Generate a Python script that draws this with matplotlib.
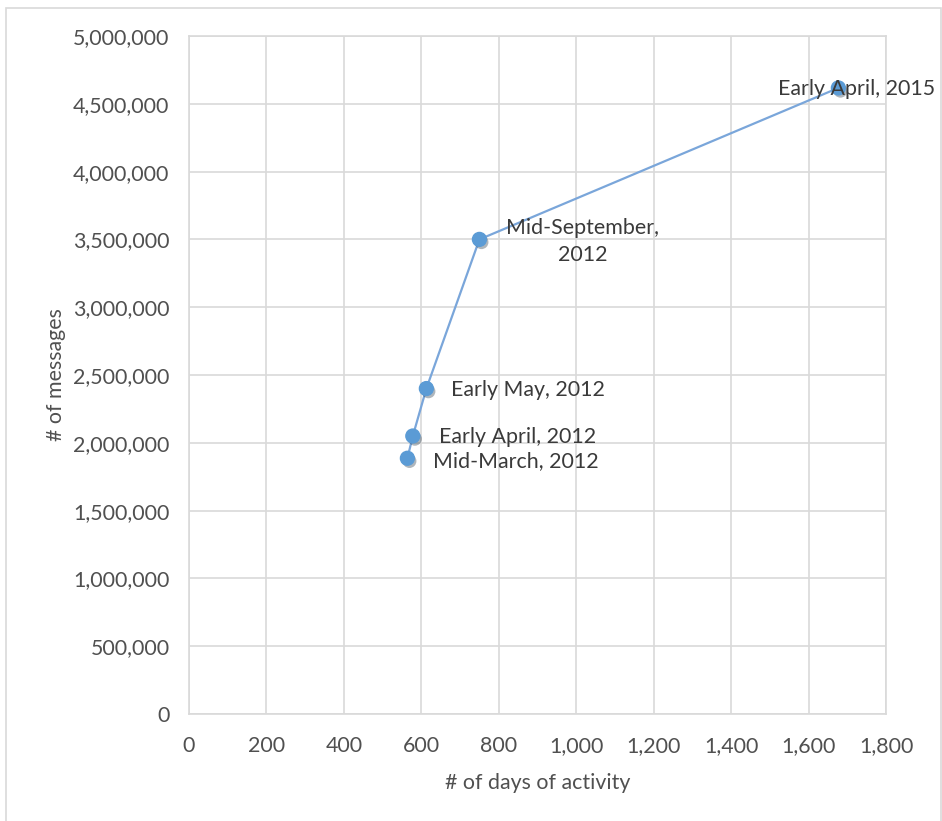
import matplotlib.pyplot as plt
from matplotlib.ticker import FuncFormatter, MultipleLocator
from matplotlib.patches import Rectangle
import matplotlib.patheffects as pe

days = [564, 578, 613, 750, 1677]
messages = [1886000, 2050000, 2400000, 3500000, 4617000]
labels = ["Mid-March, 2012", "Early April, 2012", "Early May, 2012",
          "Mid-September,\n2012", "Early April, 2015"]
# label offsets in pixels
offsets = [(26, -3), (26, -1), (25, -1), (103, -2), (18, -1)]
aligns = ["left", "left", "left", "center", "center"]

plt.rcParams['font.family'] = ['Lato', 'DejaVu Sans']

fig = plt.figure(figsize=(9.42, 8.21), dpi=100)
ax = fig.add_axes([189 / 942, 1 - 714 / 821, 697 / 942, 678 / 821])

grid_c = '#d9d9d9'
txt_c = '#505050'
fs = 15.4
ax.set_xlim(0, 1800)
ax.set_ylim(0, 5000000)
ax.xaxis.set_major_locator(MultipleLocator(200))
ax.yaxis.set_major_locator(MultipleLocator(500000))
fmt = FuncFormatter(lambda v, p: "{:,.0f}".format(v))
ax.xaxis.set_major_formatter(fmt)
ax.yaxis.set_major_formatter(fmt)
ax.grid(True, color=grid_c, linewidth=1.2)
ax.set_axisbelow(True)
for s in ax.spines.values():
    s.set_color(grid_c)
    s.set_linewidth(1.2)
ax.tick_params(length=0, labelsize=fs, colors=txt_c)
ax.tick_params(axis='x', pad=16)
ax.tick_params(axis='y', pad=14)

ax.plot(days, messages, color='#7aa6da', linewidth=1.6, zorder=3)
ax.plot(days, messages, 'o', color='#5b9bd5', markersize=10, zorder=4,
        path_effects=[pe.SimplePatchShadow(offset=(1.5, -2), alpha=0.35), pe.Normal()])

for x, y, t, off, ha in zip(days, messages, labels, offsets, aligns):
    ax.annotate(t, (x, y), xytext=(off[0] * 0.72, off[1] * 0.72),
                textcoords='offset points', ha=ha, va='center',
                fontsize=fs, color='#3a3a3a', linespacing=1.42, zorder=5)

ax.set_xlabel("# of days of activity", fontsize=fs, color=txt_c, labelpad=12)
ax.set_ylabel("# of messages", fontsize=fs, color=txt_c, labelpad=5)

fig.patches.append(Rectangle((6 / 942, -0.01), 935 / 942, 1 - 8 / 821 + 0.01,
                             transform=fig.transFigure, fill=False,
                             edgecolor='#d9d9d9', linewidth=1.2))

fig.savefig("out.png", dpi=100)
